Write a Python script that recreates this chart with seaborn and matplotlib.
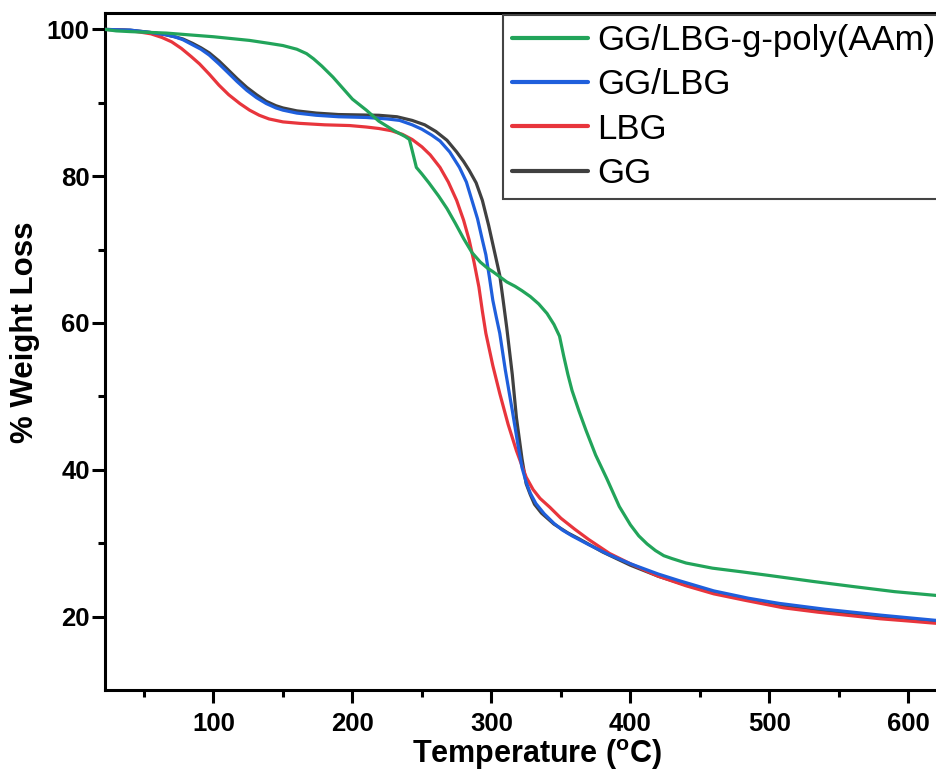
import numpy as np
import pandas as pd
import matplotlib
matplotlib.use("Agg")
import matplotlib.pyplot as plt
import seaborn as sns

# ---- data ----
t_green = [22, 30, 40, 66, 100, 126, 140, 150, 160, 167, 172, 178, 186, 193, 200, 210, 219, 230, 238, 241, 243, 246, 250, 255, 262, 268, 274, 280, 286, 292, 297, 301, 306, 311, 317, 322, 328, 334, 340, 345, 349, 352, 355, 358, 363, 368, 375, 383, 392, 400, 406, 412, 418, 424, 430, 440, 459, 480, 500, 531, 560, 590, 619, 640]
w_green = [100, 99.8, 99.7, 99.5, 99.0, 98.5, 98.1, 97.8, 97.3, 96.7, 96.0, 95.0, 93.5, 92.0, 90.5, 89.0, 87.5, 86.2, 85.4, 85.0, 83.5, 81.2, 80.3, 79.1, 77.3, 75.6, 73.6, 71.5, 69.6, 68.3, 67.5, 67.0, 66.3, 65.6, 65.0, 64.4, 63.6, 62.6, 61.3, 59.8, 58.2, 55.5, 53.0, 50.8, 48.0, 45.4, 42.0, 38.8, 35.0, 32.5, 31.0, 29.9, 29.0, 28.3, 27.9, 27.3, 26.6, 26.1, 25.6, 24.8, 24.1, 23.4, 22.9, 22.6]

t_blue = [22, 40, 54, 65, 72, 78, 85, 91, 97, 104, 110, 117, 124, 131, 138, 145, 150, 160, 174, 190, 210, 225, 234, 243, 250, 257, 263, 270, 277, 282, 286, 290, 293.5, 296, 298.5, 301, 303.5, 306, 310, 315, 319, 322, 325, 328, 332, 338, 345, 351, 358, 370, 385, 400, 420, 435, 460, 485, 507, 540, 580, 619, 640]
w_blue = [100, 99.9, 99.6, 99.3, 99.0, 98.6, 97.9, 97.3, 96.5, 95.3, 94.2, 92.9, 91.7, 90.7, 89.9, 89.3, 89.0, 88.6, 88.3, 88.1, 88.0, 87.8, 87.6, 87.0, 86.4, 85.6, 84.8, 83.3, 81.2, 79.2, 76.7, 74.2, 71.3, 69.3, 66.3, 63.1, 60.8, 58.6, 53.6, 48.1, 43.5, 40.3, 38.3, 36.8, 35.4, 34.0, 32.7, 31.8, 31.0, 29.8, 28.4, 27.2, 25.8, 24.9, 23.5, 22.5, 21.8, 21.0, 20.2, 19.5, 19.3]

t_red = [22, 35, 45, 55, 63, 70, 77, 84, 90, 97, 104, 111, 119, 126, 133, 140, 150, 162, 180, 198, 210, 219, 228, 236, 243, 250, 256, 263, 269, 275, 280, 284, 287.5, 291, 293.5, 296, 301, 306, 312, 318, 325, 330, 335, 342, 350, 360, 370, 385, 400, 420, 440, 460, 483, 510, 535, 555, 580, 600, 619, 640]
w_red = [100, 99.9, 99.7, 99.4, 98.9, 98.3, 97.4, 96.3, 95.3, 93.9, 92.4, 91.1, 89.9, 89.0, 88.3, 87.8, 87.4, 87.2, 87.0, 86.9, 86.7, 86.5, 86.2, 85.7, 85.0, 84.0, 82.9, 81.2, 79.2, 76.7, 74.0, 71.3, 68.3, 64.9, 61.6, 58.6, 54.2, 50.4, 46.2, 42.6, 39.0, 37.3, 36.1, 34.9, 33.4, 31.9, 30.5, 28.6, 27.2, 25.5, 24.2, 23.1, 22.2, 21.2, 20.6, 20.2, 19.7, 19.4, 19.1, 18.9]

t_black = [22, 40, 54, 65, 72, 78, 85, 91, 97, 104, 110, 117, 124, 131, 138, 145, 150, 160, 174, 190, 219, 232, 243, 252, 260, 268, 275, 280, 284, 289, 293.5, 298, 302, 306, 308.5, 311, 315, 318, 322, 325, 328, 331, 336, 345, 355, 363, 380, 400, 420, 440, 460, 485, 507, 540, 580, 619, 640]
w_black = [100, 99.9, 99.6, 99.3, 99.0, 98.7, 98.1, 97.5, 96.8, 95.7, 94.6, 93.3, 92.1, 91.1, 90.2, 89.6, 89.3, 88.9, 88.6, 88.4, 88.3, 88.1, 87.6, 87.0, 86.1, 84.9, 83.3, 82.0, 80.8, 79.1, 76.7, 73.3, 69.9, 66.5, 63.0, 59.4, 53.0, 47.1, 41.5, 38.1, 36.6, 35.3, 34.1, 32.6, 31.4, 30.6, 28.8, 27.0, 25.5, 24.3, 23.3, 22.3, 21.6, 20.8, 20.0, 19.4, 19.2]

labels = ["GG/LBG-g-poly(AAm)", "GG/LBG", "LBG", "GG"]
colors = ["#22a45a", "#1f5fdc", "#e8353c", "#404040"]
x_ticks = [100, 200, 300, 400, 500, 600]
y_ticks = [20, 40, 60, 80, 100]

series = {
    "GG/LBG-g-poly(AAm)": (t_green, w_green),
    "GG/LBG": (t_blue, w_blue),
    "LBG": (t_red, w_red),
    "GG": (t_black, w_black),
}
rows = []
for name, (t, w) in series.items():
    for a, b in zip(t, w):
        rows.append((name, a, b))
df = pd.DataFrame(rows, columns=["sample", "T", "W"])

# ---- style ----
sns.set_style("ticks")
plt.rcParams["font.family"] = ["Liberation Sans", "DejaVu Sans"]
plt.rcParams["mathtext.fontset"] = "custom"
plt.rcParams["mathtext.rm"] = "Liberation Sans:bold"
plt.rcParams["mathtext.bf"] = "Liberation Sans:bold"
plt.rcParams["text.color"] = "black"
plt.rcParams["axes.labelcolor"] = "black"
plt.rcParams["xtick.color"] = "black"
plt.rcParams["ytick.color"] = "black"

W_PX, H_PX = 936, 770
fig = plt.figure(figsize=(W_PX / 100, H_PX / 100), dpi=100)
xlim = (22, 700)
px_per_x = 1.39
ax_w_px = (xlim[1] - xlim[0]) * px_per_x
ax = fig.add_axes([105 / W_PX, 80 / H_PX, ax_w_px / W_PX, 677 / H_PX])

sns.lineplot(data=df, x="T", y="W", hue="sample", hue_order=labels,
             palette=dict(zip(labels, colors)), sort=False, estimator=None,
             linewidth=2.3, legend=False, ax=ax)

zorders = {"GG/LBG-g-poly(AAm)": 5, "GG/LBG": 4, "LBG": 3, "GG": 2}
handles = []
for line, name in zip(ax.lines, labels):
    line.set_zorder(zorders[name])
    line.set_solid_capstyle("round")
    line.set_solid_joinstyle("round")
    handles.append(line)

ax.set_xlim(*xlim)
ax.set_ylim(10, 10 + 677 / 7.34)
ax.set_xticks(x_ticks)
ax.set_yticks(y_ticks)
ax.set_xticks([50, 150, 250, 350, 450, 550, 650], minor=True)
ax.set_yticks([30, 50, 70, 90], minor=True)

for s in ax.spines.values():
    s.set_linewidth(2.2)
    s.set_color("black")

ax.tick_params(axis="both", which="major", direction="out", length=9.5, width=2.2, color="black")
ax.tick_params(axis="both", which="minor", direction="out", length=5, width=2.2, color="black")
ax.tick_params(axis="x", which="major", pad=6)
ax.tick_params(axis="y", which="major", pad=1.5)
for lab in ax.get_xticklabels() + ax.get_yticklabels():
    lab.set_fontsize(18.5)
    lab.set_fontweight("bold")
    lab.set_color("black")

ax.set_xlabel(r"Temperature ($\mathbf{^{o}}$C)", fontsize=22, fontweight="bold")
ax.set_ylabel("% Weight Loss", fontsize=22.5, fontweight="bold")
ax.xaxis.set_label_coords((537 - 105) / ax_w_px, (690 - 737) / 677)
ax.yaxis.set_label_coords((40 - 105) / ax_w_px, (690 - 332) / 677)

leg = ax.legend(handles, labels, loc="upper left",
                bbox_to_anchor=(503 / W_PX, 1 - 15 / H_PX), bbox_transform=fig.transFigure,
                frameon=True, fancybox=False, framealpha=1, edgecolor="#444444",
                prop={"family": "Liberation Sans", "size": 25},
                handlelength=2.19, handletextpad=0.25, borderpad=0.27,
                labelspacing=0.32, borderaxespad=0)
leg.get_frame().set_linewidth(1.5)
for h in leg.legend_handles:
    h.set_linewidth(3)

fig.savefig("out.png", dpi=100)
